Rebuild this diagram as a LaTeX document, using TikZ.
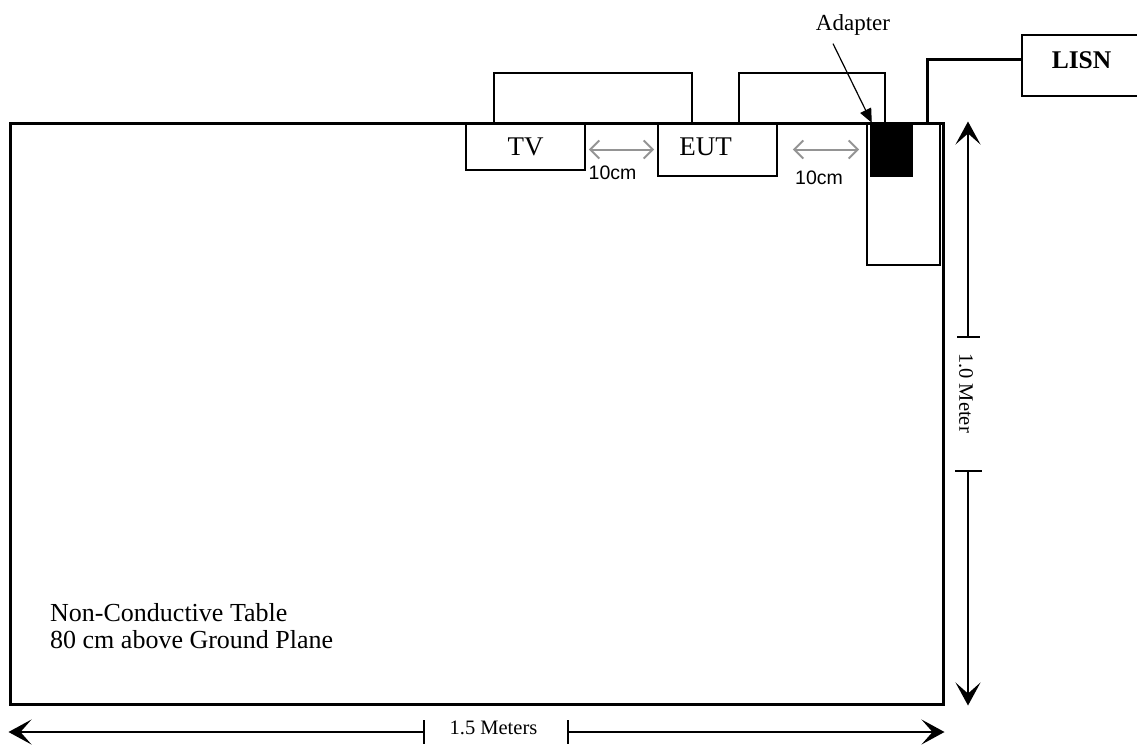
\documentclass[tikz,border=0pt]{standalone}
\usepackage{fontspec}
\setmainfont{Liberation Serif}
\newfontfamily\arialfont{Liberation Sans}
\usetikzlibrary{arrows.meta,positioning,calc}

\begin{document}
\begin{tikzpicture}[x=1pt, y=-1pt, >=Latex,
  box/.style={draw, line width=1.8pt, inner sep=0pt},
  txt/.style={inner sep=0pt, font=\fontsize{27}{29}\selectfont},
  dimtxt/.style={inner sep=0pt, font=\fontsize{20.5}{22}\selectfont},
  cmlabel/.style={inner sep=0pt, font=\arialfont\fontsize{19.5}{20}\selectfont},
  cable/.style={line width=1.8pt},
  gapline/.style={draw=black!42, line width=2pt,
    {Straight Barb[length=9pt,width=18pt]}-{Straight Barb[length=9pt,width=18pt]}},
  dimline/.style={line width=1.8pt, -{Stealth[length=23pt,width=25pt,inset=11pt]}}]

  \useasboundingbox (0,0) rectangle (1137,745);
  \clip (0,0) rectangle (1137,745);

  % стол
  \node[box, line width=3pt, minimum width=933pt, minimum height=581pt] (table) at (476.5,413.5) {};
  \node[txt, font=\fontsize{26}{27}\selectfont, align=left, anchor=north west] (tablelabel) at (50,603)
    {Non-Conductive Table\\80 cm above Ground Plane};

  % приборы
  \node[box, txt, minimum width=119pt, minimum height=47pt] (tv) at (525.5,146.5) {TV};
  \node[box, minimum width=119pt, minimum height=53pt] (eut) at (717.5,149.5) {};
  \node[txt] (euttext) at (705.5,147) {EUT};
  \node[box, minimum width=73pt, minimum height=142pt] (housing) at (903.5,194) {};
  \node[fill, inner sep=0pt, minimum width=43pt, minimum height=54pt] (plug) at (891.5,150) {};
  \node[box, minimum width=119pt, minimum height=61pt] (lisn) at (1081.5,65.5) {};
  \node[txt, font=\bfseries\fontsize{25.5}{27}\selectfont] (lisntext) at (1081.5,60.5) {LISN};
  \node[txt, font=\fontsize{23}{25}\selectfont] (adapterlabel) at (853,25) {Adapter};

  % кабели
  \draw[cable] ([xshift=29pt]tv.north west) -- ++(0,-49) -| ([xshift=35pt]eut.north west);
  \draw[cable] ([xshift=-39pt]eut.north east) -- ++(0,-49) -| ([xshift=15pt]plug.north west);
  \draw[cable, line width=3pt] ([xshift=-13pt]housing.north east) |- ([yshift=6.5pt]lisn.west);
  \draw[line width=1.2pt, -{Triangle[length=14pt,width=12pt]}]
    ([xshift=-20pt,yshift=-8pt]adapterlabel.south) -- ([xshift=2pt]plug.north west);

  % расстояния 10 см
  \draw[gapline] ([xshift=3pt,yshift=-3pt]tv.east) -- ([xshift=-3pt]eut.west);
  \draw[gapline] ([xshift=15pt]eut.east) -- ([xshift=-7pt]eut.east -| housing.west);
  \node[cmlabel] (gapa) at (612.5,173) {10cm};
  \node[cmlabel] (gapb) at (819,178) {10cm};

  % размер 1.0 м
  \node[dimtxt, rotate=-90] (meter) at (966,393) {1.0 Meter};
  \coordinate (vtopt) at (968,337);
  \coordinate (vbott) at (968,471);
  \draw[line width=1.8pt] ([xshift=-11pt]vtopt) -- ([xshift=12pt]vtopt);
  \draw[line width=1.8pt] ([xshift=-13pt]vbott) -- ([xshift=14pt]vbott);
  \draw[dimline] (vtopt) -- (vtopt |- table.north);
  \draw[dimline] (vbott) -- (vbott |- table.south);

  % размер 1.5 м
  \node[dimtxt] (meters) at (493.5,728) {1.5 Meters};
  \coordinate (htl) at (424,732);
  \coordinate (htr) at (568,732);
  \draw[line width=1.8pt] ([yshift=12pt]htl) -- ([yshift=-12pt]htl);
  \draw[line width=1.8pt] ([yshift=12pt]htr) -- ([yshift=-12pt]htr);
  \draw[dimline] (htl) -- (htl -| table.west);
  \draw[dimline] (htr) -- (htr -| table.east);
\end{tikzpicture}
\end{document}
